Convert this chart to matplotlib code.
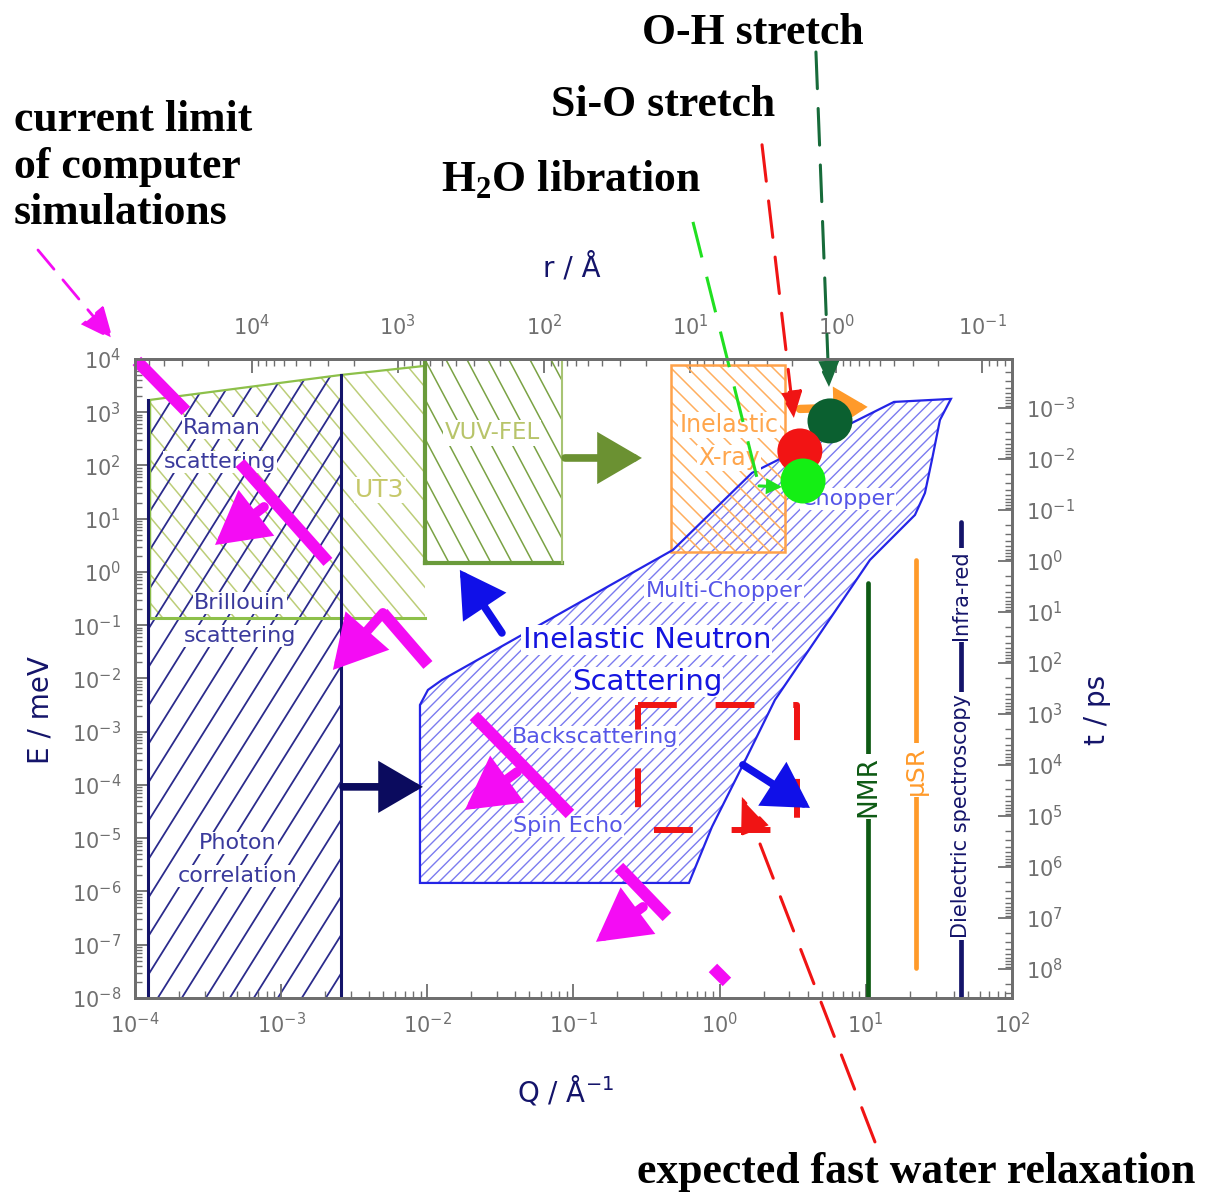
import numpy as np
import matplotlib
matplotlib.use("Agg")
import matplotlib.pyplot as plt
from matplotlib.patches import Polygon
from matplotlib.collections import LineCollection
from matplotlib.ticker import LogLocator, NullFormatter, FixedLocator, LogFormatterSciNotation

plt.rcParams["font.family"] = ["DejaVu Sans"]

# ---------------- measurement windows, (Q [1/Å], E [meV]) ----------------
photon_Q = [1.23e-4, 1.23e-4, 2.57e-3, 2.57e-3]
photon_E = [1e-8, 1.7e3, 5.0e3, 1e-8]

ut3_Q = [1.27e-4, 1.27e-4, 2.57e-3, 9.64e-3, 9.64e-3]
ut3_E = [0.137, 1.7e3, 5.0e3, 7.4e3, 0.137]

vuv_Q = [9.64e-3, 9.64e-3, 0.0834, 0.0834]
vuv_E = [1.48, 1e4, 1e4, 1.48]

ixs_Q = [0.4645, 0.4645, 2.80, 2.80]
ixs_E = [2.37, 7.7e3, 7.7e3, 2.37]

ins_Q = [8.91e-3, 8.91e-3, 0.0101, 0.0126, 0.4795, 1.664, 15.58, 38.24,
         32.16, 28.35, 25.39, 21.70, 10.68, 2.390, 1.467, 0.886, 0.6167]
ins_E = [1.444e-6, 3.18e-3, 6.08e-3, 9.37e-3, 2.59, 72.3, 1557, 1774,
         715, 126.9, 30.4, 11.76, 1.68, 3.95e-3, 2.59e-4, 1.63e-5, 1.444e-6]

relax_Q = [0.276, 3.38]
relax_E = [1.43e-5, 3.18e-3]

# time-domain techniques (vertical bars)
tech_names = ["NMR", "\u03bcSR", "Dielectric spectroscopy"]
tech_Q = [10.34, 22.03, 44.8]
tech_E_low = [1e-8, 3.66e-8, 1e-8]
tech_E_high = [0.621, 1.68, 8.69]

# vibrational modes of interest
mode_names = ["O-H stretch", "Si-O stretch", "H2O libration"]
mode_Q = [5.69, 3.54, 3.72]
mode_E = [685, 187, 51]
mode_colors = ["#0b6030", "#f21414", "#14ef14"]

# limit of present-day simulations: bars and their arrows
limit_bar_Q = [(1.03e-4, 2.23e-4), (5.23e-4, 2.09e-3), (4.97e-3, 0.0101),
               (0.02086, 0.0946), (0.2047, 0.436), (0.90, 1.122)]
limit_bar_E = [(9170, 1056), (111, 1.54), (0.170, 0.0179),
               (1.976e-3, 2.85e-5), (2.88e-6, 3.32e-7), (3.66e-8, 2.0e-8)]
limit_arrow_from = [(7.63e-4, 16.6), (4.97e-3, 0.170), (0.0411, 1.75e-4), (0.2988, 5.12e-7)]
limit_arrow_to = [(3.53e-4, 3.21), (2.26e-3, 0.01444), (0.0181, 3.39e-5), (0.1425, 1.13e-7)]

# tick values
Q_ticks = [1e-4, 1e-3, 1e-2, 1e-1, 1e0, 1e1, 1e2]
E_ticks = [1e-8, 1e-7, 1e-6, 1e-5, 1e-4, 1e-3, 1e-2, 1e-1, 1e0, 1e1, 1e2, 1e3, 1e4]
r_ticks = [1e4, 1e3, 1e2, 1e1, 1e0, 1e-1]
t_ticks = [1e-3, 1e-2, 1e-1, 1e0, 1e1, 1e2, 1e3, 1e4, 1e5, 1e6, 1e7, 1e8]

# ---------------- figure ----------------
FIG_W, FIG_H = 1205, 1194
fig = plt.figure(figsize=(FIG_W / 100, FIG_H / 100), dpi=100)
pos = [0.1120, 0.1642, 0.7278, 0.5352]
ax = fig.add_axes(pos)
ax.set_xscale("log")
ax.set_yscale("log")
ax.set_xlim(1e-4, 1e2)
ax.set_ylim(1e-8, 1e4)

AX_W = pos[2] * FIG_W
AX_H = pos[3] * FIG_H

GRAY = "#6e6e6e"
NAVY = "#14146a"


def region(Q, E):
    p = Polygon(np.column_stack([Q, E]), closed=True, fill=False,
                edgecolor="none", transform=ax.transData)
    ax.add_patch(p)
    return p


def hatch_fill(patch, angle, spacing, color, lw, z=1):
    """Parallel lines at `angle` deg, `spacing` px apart horizontally, clipped to patch."""
    th = np.deg2rad(angle)
    d = np.array([np.cos(th), np.sin(th)])
    n = np.array([-d[1], d[0]])
    perp = spacing * abs(np.sin(th))
    half = np.hypot(AX_W, AX_H)
    c = np.array([AX_W / 2, AX_H / 2])
    m = int(half / perp) + 2
    segs = []
    for k in range(-m, m + 1):
        o = c + n * k * perp
        segs.append([(o - d * half) / [AX_W, AX_H], (o + d * half) / [AX_W, AX_H]])
    lc = LineCollection(segs, colors=color, linewidths=lw,
                        transform=ax.transAxes, zorder=z)
    ax.add_collection(lc, autolim=False)
    lc.set_clip_path(patch)


# hatched windows
p_ut3 = region(ut3_Q, ut3_E)
hatch_fill(p_ut3, -50, 24, "#bccd78", 1.1)
p_ph = region(photon_Q, photon_E)
hatch_fill(p_ph, 58, 24, "#2b2b8c", 1.3)
p_vuv = region(vuv_Q, vuv_E)
hatch_fill(p_vuv, -62, 21, "#7aa244", 1.1)
p_ins = region(ins_Q, ins_E)
hatch_fill(p_ins, 45, 11.5, "#7b7bef", 1.0)
p_ixs = region(ixs_Q, ixs_E)
hatch_fill(p_ixs, -45, 17, "#ffae5e", 1.1)

# window outlines
ax.plot([ut3_Q[0], ut3_Q[-1]], [ut3_E[0], ut3_E[-1]], color="#8dc04a", lw=2.2, zorder=2)
ax.plot(ut3_Q[:4], ut3_E[:4], color="#8dc04a", lw=1.6, zorder=2)
ax.plot([photon_Q[0]] * 2, photon_E[:2], color=NAVY, lw=2.2, zorder=2)
ax.plot([photon_Q[2]] * 2, [photon_E[3], photon_E[2]], color=NAVY, lw=2.2, zorder=2)
ax.plot(vuv_Q[:2], vuv_E[:2], color="#6a9b3b", lw=3.0, zorder=2)
ax.plot([vuv_Q[0], vuv_Q[3]], [vuv_E[0], vuv_E[3]], color="#6a9b3b", lw=3.0, zorder=2)
ax.plot(vuv_Q[2:], vuv_E[2:], color="#a8c474", lw=1.5, zorder=2)
ax.add_patch(Polygon(np.column_stack([ixs_Q, ixs_E]), closed=True, fill=False,
                     edgecolor="#ffa24a", lw=1.8, zorder=2))
ax.add_patch(Polygon(np.column_stack([ins_Q, ins_E]), closed=True, fill=False,
                     edgecolor="#2424e6", lw=1.6, zorder=2))

# time-domain techniques
tech_colors = ["#0e5a14", "#ff9a2a", NAVY]
tech_text_E = [9.2e-5, 1.91e-4, 2.62e-5]
tech_sizes = [19, 18, 15]
for q, lo, hi, col, name, te, fs in zip(tech_Q, tech_E_low, tech_E_high, tech_colors,
                                        tech_names, tech_text_E, tech_sizes):
    ax.plot([q, q], [lo, hi], color=col, lw=3.4, solid_capstyle="round", zorder=2)
    ax.text(q, te, name, rotation=90, ha="center", va="center", color=col,
            fontsize=fs, bbox=dict(facecolor="white", edgecolor="none", pad=1.5), zorder=3)
ax.text(tech_Q[2], 0.37, "Infra-red", rotation=90, ha="center", va="center",
        color=NAVY, fontsize=15,
        bbox=dict(facecolor="white", edgecolor="none", pad=1.5), zorder=3)

# labels of the windows
wb = dict(facecolor="white", edgecolor="none", pad=0.8)
lab = "#3a3a9c"
for txt, q, e in [("Raman", 3.94e-4, 506), ("scattering", 3.82e-4, 116),
                  ("Brillouin", 5.23e-4, 0.262), ("scattering", 5.23e-4, 0.0628),
                  ("Photon", 5.07e-4, 8.15e-6), ("correlation", 5.07e-4, 1.95e-6)]:
    ax.text(q, e, txt, ha="center", va="center", color=lab, fontsize=16, bbox=wb, zorder=3)
ax.text(4.74e-3, 34.7, "UT3", ha="center", va="center", color="#c6c86a", fontsize=18,
        bbox=wb, zorder=3)
ax.text(0.0277, 408, "VUV-FEL", ha="center", va="center", color="#b8c46a", fontsize=16.5,
        bbox=wb, zorder=3)
ax.text(1.158, 576, "Inelastic", ha="center", va="center", color="#ffa64d", fontsize=17,
        bbox=wb, zorder=3)
ax.text(1.158, 138, "X-ray", ha="center", va="center", color="#ffa64d", fontsize=17,
        bbox=wb, zorder=3)
ins_lab = "#5656e8"
for txt, q, e in [("Chopper", 7.55, 23.5), ("Multi-Chopper", 1.07, 0.44),
                  ("Backscattering", 0.140, 7.97e-4), ("Spin Echo", 0.0917, 1.70e-5)]:
    ax.text(q, e, txt, ha="center", va="center", color=ins_lab, fontsize=16,
            bbox=wb, zorder=3)
ax.text(0.318, 0.0528, "Inelastic Neutron", ha="center", va="center", color="#1515e0",
        fontsize=21, bbox=wb, zorder=3)
ax.text(0.318, 8.6e-3, "Scattering", ha="center", va="center", color="#1515e0",
        fontsize=21, bbox=wb, zorder=3)

# expected fast water relaxation window
ax.plot([relax_Q[0], relax_Q[1], relax_Q[1], relax_Q[0], relax_Q[0]],
        [relax_E[1], relax_E[1], relax_E[0], relax_E[0], relax_E[1]],
        color="#f01414", lw=4.3, dashes=(6.5, 6.5), zorder=4)


def arrow(start, tip, color, lw, hl, hw, ls="-", z=5):
    ax.annotate("", xy=tip, xytext=start, xycoords="data", textcoords="data",
                arrowprops=dict(arrowstyle=f"-|>,head_length={hl},head_width={hw}",
                                color=color, lw=lw, shrinkA=0, shrinkB=0,
                                linestyle=ls, mutation_scale=1, joinstyle="miter"),
                annotation_clip=False, zorder=z)


# extension arrows
arrow((0.0875, 138), (0.294, 138), "#6b9132", 5.5, 24, 14)
arrow((2.65e-3, 9.2e-5), (9.34e-3, 9.2e-5), "#0b0b5e", 5.5, 24, 14)
arrow((0.0324, 0.0715), (0.0167, 1.09), "#1010e8", 5.5, 24, 14)
arrow((1.444, 2.38e-4), (4.15, 3.7e-5), "#1010e8", 5.5, 24, 14)
arrow((3.54, 1150), (10.3, 1256), "#ff9a2a", 6.0, 16, 10)

# vibrational modes
for q, e, c in zip(mode_Q, mode_E, mode_colors):
    ax.scatter([q], [e], s=1050, color=c, edgecolors="none", zorder=6, clip_on=False)

# limits of computer simulations
MAG = "#f40cf4"
for qq, ee in zip(limit_bar_Q, limit_bar_E):
    ax.plot(qq, ee, color=MAG, lw=8.6, solid_capstyle="butt", zorder=7, clip_on=False)
for a, b in zip(limit_arrow_from, limit_arrow_to):
    arrow(a, b, MAG, 7.0, 27, 15, z=7)

# callouts
dash = (0, (12, 6.5))
arrow((4.56, 5.8e9), (5.6, 2980), "#176b3a", 2.2, 16, 7, ls=dash, z=8)
arrow((1.95, 1.05e8), (3.22, 780), "#f01414", 2.2, 16, 7, ls=dash, z=8)
ax.plot([0.657, 1.86], [3.74e6, 41.2], color="#20e020", lw=2.2, dashes=(12, 6.5),
        zorder=8, clip_on=False)
arrow((1.86, 41.2), (2.67, 39.5), "#20e020", 2.2, 8, 4, z=8)
arrow((2.17e-5, 1.11e6), (7.07e-5, 2.28e4), MAG, 2.0, 20, 9, ls=(0, (9, 5)), z=8)
arrow((11.55, 1.98e-11), (1.42, 5.96e-5), "#f01414", 2.2, 22, 9, ls=dash, z=8)


# ---------------- axes styling ----------------
def style_axis(axis, major_vals, pad):
    axis.set_major_locator(FixedLocator(major_vals))
    axis.set_major_formatter(LogFormatterSciNotation())
    axis.set_minor_locator(LogLocator(base=10, subs=np.arange(2, 10), numticks=30))
    axis.set_minor_formatter(NullFormatter())


for s in ax.spines.values():
    s.set_color(GRAY)
    s.set_linewidth(2)
style_axis(ax.xaxis, Q_ticks, 10)
style_axis(ax.yaxis, E_ticks, 10)
ax.tick_params(which="both", direction="in", colors=GRAY, top=False, right=False)
ax.tick_params(which="major", length=10, width=1.3, labelsize=15, pad=10, labelcolor="#707070")
ax.tick_params(which="minor", length=5, width=1.0)

sec = ax.secondary_xaxis("top", functions=(lambda q: 2 * np.pi / q,
                                           lambda r: 2 * np.pi / r))
style_axis(sec.xaxis, r_ticks, 14)
sec.tick_params(which="both", direction="in", colors=GRAY)
sec.tick_params(which="major", length=10, width=1.3, labelsize=15, pad=14, labelcolor="#707070")
sec.tick_params(which="minor", length=5, width=1.0)
for s in sec.spines.values():
    s.set_color(GRAY)
    s.set_linewidth(2)

tw = ax.twinx()
tw.set_yscale("log")
tw.set_ylim(10 ** 8.57, 10 ** -3.96)
style_axis(tw.yaxis, t_ticks, 10)
tw.tick_params(which="both", direction="in", colors=GRAY)
tw.tick_params(which="major", length=10, width=1.3, labelsize=15, pad=10, labelcolor="#707070")
tw.tick_params(which="minor", length=5, width=1.0)
for s in tw.spines.values():
    s.set_color(GRAY)
    s.set_linewidth(2)

# axis titles
fig.text(0.4747, 0.7755, "r / Å", ha="center", va="center", color=NAVY, fontsize=20)
fig.text(0.4689, 0.0871, "Q / Å$^{\\mathdefault{-1}}$", ha="center", va="center",
         color=NAVY, fontsize=20)
fig.text(0.0332, 0.4054, "E / meV", ha="center", va="center", rotation=90,
         color=NAVY, fontsize=20)
fig.text(0.9104, 0.4054, "t / ps", ha="center", va="center", rotation=90,
         color=NAVY, fontsize=20)

# annotations
serif = dict(family="Liberation Serif", weight="bold", fontsize=31.5, color="black")
fig.text(0.0116, 0.8995, "current limit", ha="left", va="center", **serif)
fig.text(0.0116, 0.8601, "of computer", ha="left", va="center", **serif)
fig.text(0.0116, 0.8216, "simulations", ha="left", va="center", **serif)
fig.text(0.6249, 0.9724, "O-H stretch", ha="center", va="center", **serif)
fig.text(0.5502, 0.9121, "Si-O stretch", ha="center", va="center", **serif)
fig.text(0.4739, 0.8492, "H$_{\\mathdefault{2}}$O libration", ha="center", va="center", **serif)
fig.text(0.7602, 0.0184, "expected fast water relaxation", ha="center", va="center", **serif)

fig.savefig("out.png", dpi=100)
